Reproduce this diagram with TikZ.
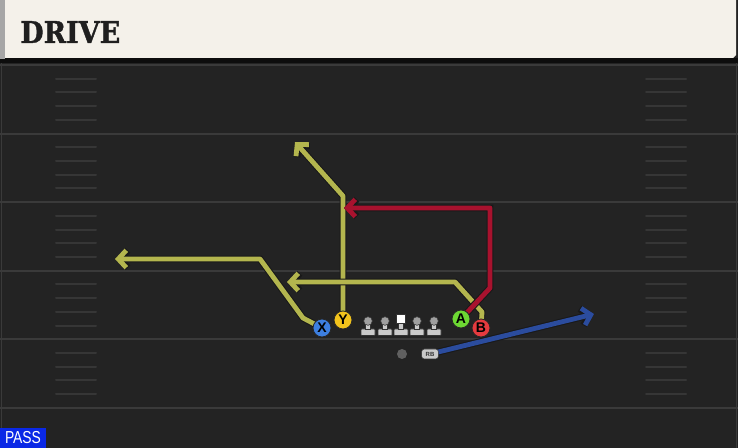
\documentclass[tikz,border=0pt]{standalone}
\usepackage{fontspec}
\usetikzlibrary{arrows.meta}
\newfontfamily\titlefont[FakeStretch=0.9,FakeBold=1.2]{DejaVu Serif}
\newfontfamily\tagfont[FakeStretch=0.8]{Liberation Sans}
\newfontfamily\letterfont{Liberation Sans}
\definecolor{fieldbg}{HTML}{232323}
\definecolor{yardline}{HTML}{3A3A3A}
\definecolor{hashcol}{HTML}{363636}
\definecolor{headbg}{HTML}{F4F1EA}
\definecolor{routeyel}{HTML}{B4B64E}
\definecolor{routered}{HTML}{A8122E}
\definecolor{routeblue}{HTML}{2B4C9E}
\definecolor{xblue}{HTML}{3D7FE0}
\definecolor{yyel}{HTML}{F2C31C}
\definecolor{agreen}{HTML}{6DD833}
\definecolor{bred}{HTML}{E63B3F}
\definecolor{mangray}{HTML}{CACACA}
\definecolor{passblue}{HTML}{0A28E6}
\pgfdeclarelayer{field}
\pgfdeclarelayer{routes}
\pgfsetlayers{field,routes,main}
\tikzset{
  route/.style={draw=#1, line width=3.6pt, line join=round,
    -{Straight Barb[length=6pt,width=13pt]},
    preaction={draw=black!90, line width=5.2pt}},
  player/.style={circle, fill=#1, draw=black!85, line width=0.6pt,
    minimum size=13.5pt, inner sep=0pt, font=\letterfont\bfseries\fontsize{10.5}{10.5}\selectfont},
  manhead/.style={circle, fill=gray!75, draw=black!80, line width=0.4pt,
    minimum size=6.5pt, inner sep=0pt},
  hashmark/.style={draw=hashcol, line width=1.5pt, line cap=round},
  passtag/.style={fill=passblue, text=white, minimum width=34.5pt,
    minimum height=15pt, inner sep=0pt, font=\tagfont\fontsize{13}{13}\selectfont}
}

\begin{document}
\begin{tikzpicture}[x=0.75pt,y=-0.75pt]
\useasboundingbox (0,0) rectangle (738,448);

% field
\begin{pgfonlayer}{field}
	\fill[fieldbg] (0,0) rectangle (738,448);
	\foreach \yl in {0,...,5}{
		\draw[yardline, line width=1.5pt] (0,65+68.6*\yl) -- (738,65+68.6*\yl);
	}
	\foreach \yl in {0,...,4}{
		\foreach \hm in {1,...,4}{
			\draw[hashmark] (56,65+68.6*\yl+13.7*\hm) -- (96,65+68.6*\yl+13.7*\hm);
			\draw[hashmark] (646,65+68.6*\yl+13.7*\hm) -- (686,65+68.6*\yl+13.7*\hm);
		}
	}
	\draw[yardline, line width=1.2pt] (1.5,62) -- (1.5,448);
	\draw[yardline, line width=1.2pt] (736.5,62) -- (736.5,448);
	% header
	\fill[black!95] (0,58) rectangle (738,63);
	\fill[gray!70] (0,0) rectangle (5,59);
	\fill[headbg] (5,0) -- (736,0) -- (736,55) -- (733,58) -- (5,58) -- cycle;
\end{pgfonlayer}

\node[anchor=base west, font=\titlefont\bfseries\fontsize{22.5}{22.5}\selectfont, text=black!88, inner sep=0pt] (title) at (20,43) {DRIVE};
\node[passtag] (pass) at (23,438) {PASS};

% players
\node[player=xblue] (x) at (322,328) {X};
\node[player=yyel] (y) at (343,320) {Y};
\node[player=agreen] (a) at (461,319) {A};
\node[player=bred] (b) at (481,328) {B};

% line
\foreach \px/\nm in {368/lt,385/lg,417/rg,434/rt}{
	\filldraw[fill=mangray, draw=black!80, line width=0.4pt, rounded corners=0.6pt] (\px-7,329) rectangle (\px+7,335.5);
	\filldraw[fill=mangray, draw=black!80, line width=0.4pt] (\px-2.5,324) rectangle (\px+2.5,329.5);
	\node[manhead] (\nm) at (\px,321) {};
}
\filldraw[fill=mangray, draw=black!80, line width=0.4pt, rounded corners=0.6pt] (394,329) rectangle (408,335.5);
\filldraw[fill=mangray, draw=black!80, line width=0.4pt] (398.5,323) rectangle (403.5,329.5);
\node[fill=white, draw=black!80, line width=0.4pt, minimum size=7pt, inner sep=0pt] (c) at (401,318.5) {};

\node[circle, fill=gray!75!black, minimum size=7.5pt, inner sep=0pt] (qb) at (402,354) {};
\node[rounded corners=2pt, fill=mangray, draw=black!80, line width=0.4pt, minimum width=12.5pt, minimum height=7.5pt, inner sep=0pt, font=\letterfont\bfseries\fontsize{4.5}{4.5}\selectfont, text=black!80] (rb) at (430,354) {RB};

% routes
\coordinate (ycut) at (343,196);
\coordinate (yend) at (295,142);
\coordinate (bup) at (482,312);
\coordinate (bcut) at (455,282);
\coordinate (bend) at (287,282);
\coordinate (xcut) at (303,318);
\coordinate (xup) at (260,259);
\coordinate (xend) at (115,259);
\coordinate (acut) at (490,288);
\coordinate (atop) at (490,208);
\coordinate (aend) at (344,208);
\coordinate (rbend) at (594,314);
\begin{pgfonlayer}{routes}
	\draw[route=routeyel] (y.center) -- (ycut) -- (yend);
	\draw[route=routeyel] (b.center) -- (bup) -- (bcut) -- (bend);
	\draw[route=routeyel] (x.center) -- (xcut) -- (xup) -- (xend);
	\draw[route=routered] (a.center) -- (acut) -- (atop) -- (aend);
	\draw[route=routeblue] (rb.center) -- (rbend);
\end{pgfonlayer}
\end{tikzpicture}
\end{document}
